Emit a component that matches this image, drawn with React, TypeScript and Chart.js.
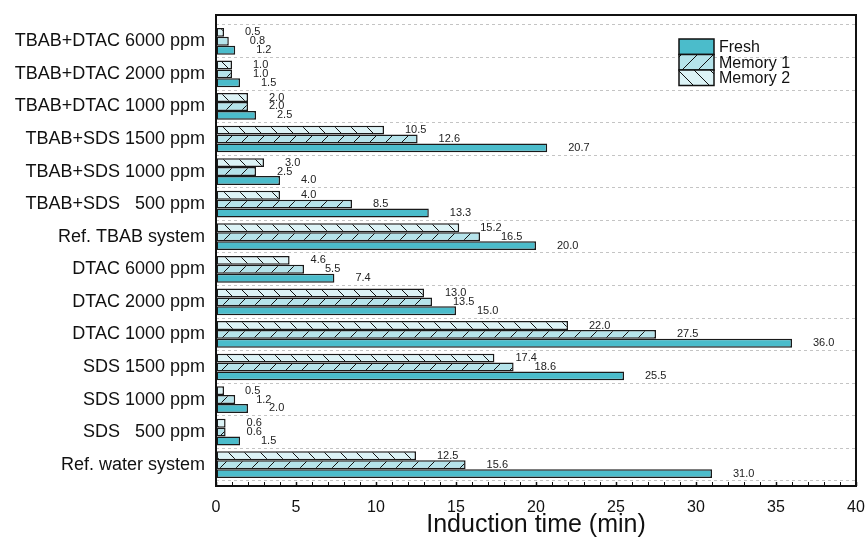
import React, { useEffect, useRef } from 'react';
import { Chart, registerables } from 'chart.js';

Chart.register(...registerables);

const categories = [
  'TBAB+DTAC 6000 ppm',
  'TBAB+DTAC 2000 ppm',
  'TBAB+DTAC 1000 ppm',
  'TBAB+SDS 1500 ppm',
  'TBAB+SDS 1000 ppm',
  'TBAB+SDS   500 ppm',
  'Ref. TBAB system',
  'DTAC 6000 ppm',
  'DTAC 2000 ppm',
  'DTAC 1000 ppm',
  'SDS 1500 ppm',
  'SDS 1000 ppm',
  'SDS   500 ppm',
  'Ref. water system',
];
const freshValues = [1.2, 1.5, 2.5, 20.7, 4.0, 13.3, 20.0, 7.4, 15.0, 36.0, 25.5, 2.0, 1.5, 31.0];
const memory1Values = [0.8, 1.0, 2.0, 12.6, 2.5, 8.5, 16.5, 5.5, 13.5, 27.5, 18.6, 1.2, 0.6, 15.6];
const memory2Values = [0.5, 1.0, 2.0, 10.5, 3.0, 4.0, 15.2, 4.6, 13.0, 22.0, 17.4, 0.5, 0.6, 12.5];
const seriesNames = ['Fresh', 'Memory 1', 'Memory 2'];
const xMin = 0;
const xMax = 40;
const xMajorStep = 5;
const xTitle = 'Induction time (min)';

const FONT = "'Liberation Sans', Arial, sans-serif";

function makeHatch(bg: string, dir: '/' | '\\'): CanvasPattern | string {
  const s = 16;
  const c = document.createElement('canvas');
  c.width = s;
  c.height = s;
  const g = c.getContext('2d');
  if (!g) return bg;
  g.fillStyle = bg;
  g.fillRect(0, 0, s, s);
  g.strokeStyle = '#111';
  g.lineWidth = 1;
  g.beginPath();
  if (dir === '/') {
    g.moveTo(0, s); g.lineTo(s, 0);
    g.moveTo(-2, 2); g.lineTo(2, -2);
    g.moveTo(s - 2, s + 2); g.lineTo(s + 2, s - 2);
  } else {
    g.moveTo(0, 0); g.lineTo(s, s);
    g.moveTo(-2, s - 2); g.lineTo(2, s + 2);
    g.moveTo(s - 2, -2); g.lineTo(s + 2, 2);
  }
  g.stroke();
  const p = g.createPattern(c, 'repeat');
  return p || bg;
}

const valueLabelPlugin = {
  id: 'valueLabels',
  afterDatasetsDraw(chart: any) {
    const ctx = chart.ctx;
    ctx.save();
    ctx.font = `11px ${FONT}`;
    ctx.fillStyle = '#222';
    ctx.textAlign = 'left';
    ctx.textBaseline = 'middle';
    chart.data.datasets.forEach((ds: any, di: number) => {
      const meta = chart.getDatasetMeta(di);
      meta.data.forEach((bar: any, i: number) => {
        const v = ds.data[i].x as number;
        ctx.fillText(v.toFixed(1), bar.x + 21, bar.y);
      });
    });
    ctx.restore();
  },
};

const framePlugin = {
  id: 'frameAndLegend',
  afterDraw(chart: any) {
    const { ctx, chartArea } = chart;
    ctx.save();
    ctx.strokeStyle = '#111';
    ctx.lineWidth = 2;
    ctx.strokeRect(chartArea.left, chartArea.top, chartArea.right - chartArea.left, chartArea.bottom - chartArea.top);

    // legend (Fresh, Memory 1, Memory 2)
    const order = [2, 1, 0];
    const bw = 35;
    const bh = 15.5;
    const bx = chartArea.right - 177;
    let by = chartArea.top + 24;
    ctx.font = `16px ${FONT}`;
    ctx.textBaseline = 'middle';
    ctx.textAlign = 'left';
    order.forEach((di) => {
      const ds = chart.data.datasets[di];
      ctx.fillStyle = ds.backgroundColor;
      ctx.fillRect(bx, by, bw, bh);
      ctx.lineWidth = 1.5;
      ctx.strokeStyle = '#111';
      ctx.strokeRect(bx, by, bw, bh);
      ctx.fillStyle = '#111';
      ctx.fillText(ds.label, bx + bw + 5, by + bh / 2 + 1);
      by += bh;
    });
    ctx.restore();
  },
};

const zeroPad = (s: any) => {
  s.paddingTop = 0;
  s.paddingBottom = 0;
  s.paddingLeft = 0;
  s.paddingRight = 0;
};

export default function App() {
  const ref = useRef<HTMLCanvasElement>(null);

  useEffect(() => {
    const canvas = ref.current;
    if (!canvas) return;
    const toPts = (arr: number[]) => arr.map((v, i) => ({ x: v, y: i }));
    const yMin = -0.807;
    const yMax = 13.654;

    const common = {
      borderColor: '#1a1a1a',
      borderWidth: 1.5,
      borderSkipped: false,
      categoryPercentage: 0.82,
      barPercentage: 1.0,
      yAxisID: 'y',
      xAxisID: 'x',
    };

    const chart = new Chart(canvas, {
      type: 'bar',
      data: {
        datasets: [
          { ...common, label: seriesNames[2], data: toPts(memory2Values), backgroundColor: makeHatch('#dcf3f6', '\\') },
          { ...common, label: seriesNames[1], data: toPts(memory1Values), backgroundColor: makeHatch('#b5e3ea', '/') },
          { ...common, label: seriesNames[0], data: toPts(freshValues), backgroundColor: '#4bbccb' },
        ] as any,
      },
      options: {
        indexAxis: 'y',
        responsive: false,
        animation: false,
        devicePixelRatio: 1,
        layout: { padding: { top: 15, right: 10, left: 0, bottom: 0 } },
        plugins: {
          legend: { display: false },
          tooltip: { enabled: false },
        },
        scales: {
          x: {
            type: 'linear',
            position: 'bottom',
            min: xMin,
            max: xMax,
            offset: false,
            border: { display: false },
            grid: {
              offset: false,
              drawOnChartArea: false,
              drawTicks: true,
              tickLength: -4,
              tickColor: '#111',
              tickWidth: (c: any) => (c.tick && c.tick.value % xMajorStep === 0 ? 1.5 : 1),
            },
            ticks: {
              stepSize: 1,
              autoSkip: false,
              maxRotation: 0,
              padding: 16,
              color: '#111',
              font: { family: FONT, size: 16 },
              callback: (v: any) => (Number(v) % xMajorStep === 0 ? String(v) : ''),
            },
            title: {
              display: true,
              text: xTitle,
              color: '#111',
              font: { family: FONT, size: 25, lineHeight: 1.2 },
              padding: { top: 0, bottom: 4 },
            },
            afterFit: (s: any) => { s.height = 58; zeroPad(s); },
          },
          y: {
            type: 'linear',
            position: 'left',
            reverse: true,
            min: yMin,
            max: yMax,
            offset: false,
            border: { display: false },
            grid: { display: false, drawTicks: false, offset: false },
            afterBuildTicks: (s: any) => { s.ticks = categories.map((_, i) => ({ value: i })); },
            ticks: {
              autoSkip: false,
              padding: 11,
              color: '#111',
              font: { family: FONT, size: 18 },
              callback: (v: any) => categories[Math.round(Number(v))] ?? '',
            },
            afterFit: (s: any) => { s.width = 216; zeroPad(s); },
          },
          yGrid: {
            type: 'linear',
            position: 'left',
            reverse: true,
            min: yMin,
            max: yMax,
            offset: false,
            border: { display: false, dash: [3, 3] },
            grid: { color: '#c4c4c4', lineWidth: 1, drawTicks: false, offset: false },
            afterBuildTicks: (s: any) => {
              s.ticks = [...categories.map((_, i) => ({ value: i - 0.5 })), { value: categories.length - 0.5 }];
            },
            ticks: { display: false },
            afterFit: (s: any) => { s.width = 0; zeroPad(s); },
          },
        },
      } as any,
      plugins: [valueLabelPlugin, framePlugin],
    });
    return () => chart.destroy();
  }, []);

  return (
    <div style={{ position: 'absolute', left: 0, top: 0, width: 866, height: 544, background: '#fff' }}>
      <canvas ref={ref} width={866} height={544} style={{ display: 'block', width: 866, height: 544 }} />
    </div>
  );
}
